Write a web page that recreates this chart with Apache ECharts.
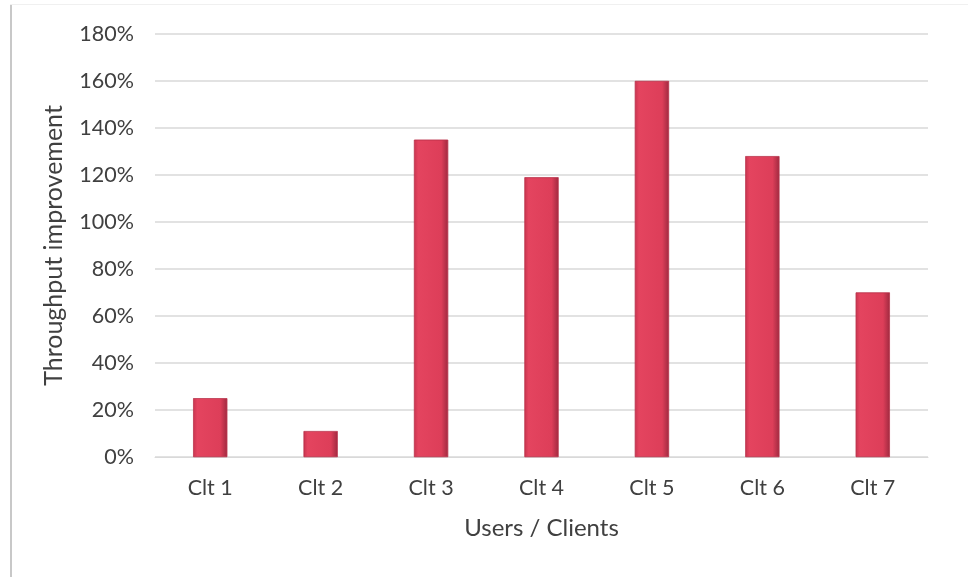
<!DOCTYPE html>
<html>
<head>
<meta charset="utf-8">
<script src="https://cdn.jsdelivr.net/npm/echarts@6/dist/echarts.min.js"></script>
<style>
  html, body { margin: 0; padding: 0; background: #fff; }
  #main { width: 968px; height: 577px; }
</style>
</head>
<body>
<div id="main"></div>
<script>
// categories and values (percent)
var categories = ['Clt 1', 'Clt 2', 'Clt 3', 'Clt 4', 'Clt 5', 'Clt 6', 'Clt 7'];
var improvement = [25, 11, 135, 119, 160, 128, 70];

window.onload = function () {
    var myChart = echarts.init(document.getElementById('main'));

    var barColor = new echarts.graphic.LinearGradient(0, 0, 1, 0, [
        { offset: 0, color: '#c93550' },
        { offset: 0.12, color: '#e4445f' },
        { offset: 0.8, color: '#dd3e59' },
        { offset: 1, color: '#a02a40' }
    ]);

    var option = {
        backgroundColor: '#fff',
        textStyle: { fontFamily: 'Lato, "Noto Sans", sans-serif' },
        // page frame (shadowed left edge)
        graphic: [
            { type: 'rect', left: 10, top: 4, shape: { width: 2, height: 573 }, style: { fill: '#c8c8c8' } },
            { type: 'rect', left: 10, top: 4, shape: { width: 958, height: 1 }, style: { fill: '#f0f0f0' } }
        ],
        grid: { left: 155, right: 40, top: 34, bottom: 120 },
        xAxis: {
            type: 'category',
            data: categories,
            name: 'Users / Clients',
            nameLocation: 'middle',
            nameGap: 59,
            nameTextStyle: { fontSize: 24, color: '#404040' },
            axisLine: { lineStyle: { color: '#d9d9d9' } },
            axisTick: { show: false },
            axisLabel: { fontSize: 21.5, color: '#404040', margin: 20 }
        },
        yAxis: {
            type: 'value',
            min: 0,
            max: 180,
            interval: 20,
            name: 'Throughput improvement',
            nameLocation: 'middle',
            nameGap: 89,
            nameTextStyle: { fontSize: 25, color: '#404040' },
            axisLine: { show: false },
            axisTick: { show: false },
            axisLabel: { fontSize: 21.5, color: '#404040', margin: 21, formatter: '{value}%' },
            splitLine: { lineStyle: { color: '#d9d9d9', width: 1.5 } }
        },
        series: [
            {
                name: 'Throughput improvement',
                type: 'bar',
                data: improvement,
                barWidth: 34,
                itemStyle: {
                    color: barColor,
                    borderColor: '#b8324a',
                    borderWidth: 0.5
                }
            }
        ]
    };

    myChart.setOption(option);
};
</script>
</body>
</html>
